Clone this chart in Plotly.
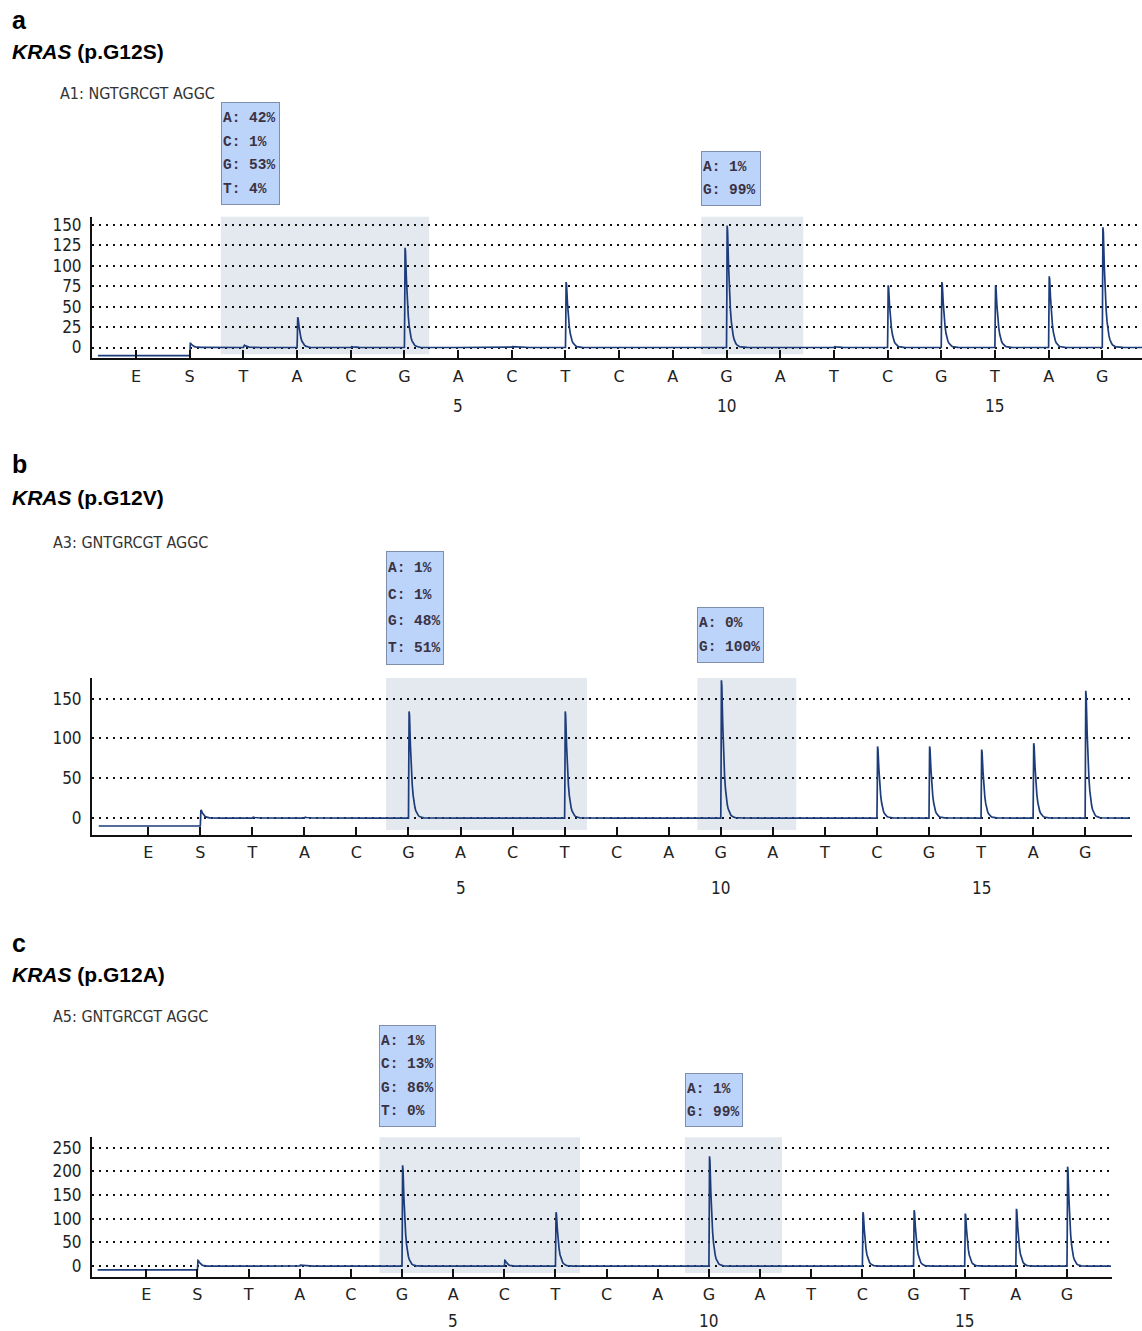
import numpy as np
import plotly.graph_objects as go

# ---------------- data ----------------
dispensation = ["E", "S", "T", "A", "C", "G", "A", "C", "T", "C",
                "A", "G", "A", "T", "C", "G", "T", "A", "G"]
position_labels = ["5", "10", "15"]
position_index = [6, 11, 16]

panel_letters = ["a", "b", "c"]
mutations = ["p.G12S", "p.G12V", "p.G12A"]
sample_texts = ["A1: NGTGRCGT AGGC", "A3: GNTGRCGT AGGC", "A5: GNTGRCGT AGGC"]

heights_a = [0, 5, 3, 37, 1, 122, 0, 1, 80, 0, 0, 149, 0, 1, 76, 80, 76, 87, 147]
heights_b = [0, 10, 1, 1, 0, 134, 0, 0, 134, 0, 0, 173, 0, 0, 90, 90, 86, 94, 160]
heights_c = [0, 12, 0, 2, 0, 213, 0, 12, 114, 0, 0, 232, 0, 0, 114, 118, 111, 121, 210]
pre_levels = [-10, -10, -8]

yticks_a = [0, 25, 50, 75, 100, 125, 150]
yticks_b = [0, 50, 100, 150]
yticks_c = [0, 50, 100, 150, 200, 250]

box1_a = ["A: 42%", "C: 1%", "G: 53%", "T: 4%"]
box2_a = ["A: 1%", "G: 99%"]
box1_b = ["A: 1%", "C: 1%", "G: 48%", "T: 51%"]
box2_b = ["A: 0%", "G: 100%"]
box1_c = ["A: 1%", "C: 13%", "G: 86%", "T: 0%"]
box2_c = ["A: 1%", "G: 99%"]

# ---------------- layout config ----------------
W, H = 1142, 1331
def py(px):
    return 1 - px / H

panels = [
    dict(h=heights_a, yt=yticks_a, xdom=[92 / W, 1.0], ydom=[py(357), py(215)],
         xr=[-0.82, 18.74], yr=[-13.4, 160], xend=18.74, xstart=-0.71,
         shades=[(1.58, 5.46), (10.53, 12.43)], boxes=[box1_a, box2_a],
         box_geom=[(py(203), 59, 103), (py(204), 60, 55)],
         num_y=py(405), head=(py(18), py(50), py(92), 58 / W)),
    dict(h=heights_b, yt=yticks_b, xdom=[92 / W, 1132 / W], ydom=[py(834), py(677)],
         xr=[-1.08, 18.9], yr=[-21, 176], xend=18.86, xstart=-0.95,
         shades=[(4.57, 8.43), (10.55, 12.45)], boxes=[box1_b, box2_b],
         box_geom=[(py(664), 58, 114), (py(662), 67, 56)],
         num_y=py(887), head=(py(463), py(496), py(541), 51 / W)),
    dict(h=heights_c, yt=yticks_c, xdom=[92 / W, 1112 / W], ydom=[py(1277), py(1137)],
         xr=[-1.06, 18.88], yr=[-23, 272], xend=18.86, xstart=-0.95,
         shades=[(4.56, 8.48), (10.53, 12.43)], boxes=[box1_c, box2_c],
         box_geom=[(py(1127), 57, 102), (py(1127), 58, 54)],
         num_y=py(1321), head=(py(942), py(974), py(1016), 51 / W)),
]


def pyrogram(heights, pre, xstart, xend):
    xs = [xstart]
    ys = [pre]
    decay = np.linspace(0.0, 0.4, 24)
    for i in range(1, len(heights)):
        h = heights[i]
        base = pre if i == 1 else 0.0
        xs += [i, i + 0.006, i + 0.012, i + 0.02]
        ys += [base, base + 0.4 * (h - base), h, 0.96 * h]
        for d in decay[1:]:
            xs.append(i + 0.02 + d)
            ys.append(h * np.exp(-d / 0.045))
    xs.append(xend)
    ys.append(0.0)
    return xs, ys


def cond(s):
    return '<span style="font-stretch:condensed">%s</span>' % s


fig = go.Figure()
shapes = []
annotations = []
LINE = "#1c3c7a"
TXT = "#222222"
COND = "DejaVu Sans"

for k, p in enumerate(panels):
    sfx = "" if k == 0 else str(k + 1)
    xa, ya = "x" + sfx, "y" + sfx
    xs, ys = pyrogram(p["h"], pre_levels[k], p["xstart"], p["xend"])
    fig.add_trace(go.Scatter(x=xs, y=ys, mode="lines", xaxis=xa, yaxis=ya,
                             line=dict(color=LINE, width=1.7), showlegend=False,
                             hoverinfo="skip"))
    fig.layout["xaxis" + sfx] = dict(
        domain=p["xdom"], anchor=ya, range=p["xr"],
        tickmode="array", tickvals=list(range(len(dispensation))), ticktext=dispensation,
        ticks="inside", ticklen=8, tickwidth=2, tickcolor="#111",
        showline=True, linecolor="#111", linewidth=2, showgrid=False, zeroline=False,
        tickfont=dict(family="DejaVu Sans", size=16, color=TXT), ticklabelstandoff=2,
        fixedrange=True)
    fig.layout["yaxis" + sfx] = dict(
        domain=p["ydom"], anchor=xa, range=p["yr"],
        tickmode="array", tickvals=p["yt"], ticktext=[cond(str(v)) for v in p["yt"]],
        ticks="", showline=True, linecolor="#111", linewidth=2,
        showgrid=True, gridcolor="#111", gridwidth=2, griddash="2px,5px",
        zeroline=False, tickfont=dict(family=COND, size=17, color=TXT),
        ticklabelstandoff=5, fixedrange=True)

    for (x0, x1) in p["shades"]:
        shapes.append(dict(type="rect", xref=xa, yref=ya + " domain", x0=x0, x1=x1,
                           y0=0.03, y1=1.0, fillcolor="#e4e8ef", line=dict(width=0),
                           layer="below"))

    for bi, lines in enumerate(p["boxes"]):
        ybot, bw, bh = p["box_geom"][bi]
        txt = "<br>".join('<span style="font-size:14.5px"><b>%s</b></span>' % s for s in lines)
        fsz = (bh - 8) / len(lines) / 1.3
        annotations.append(dict(
            xref=xa, yref="paper", x=p["shades"][bi][0], y=ybot,
            xanchor="left", yanchor="bottom", text=txt, showarrow=False,
            align="left", valign="middle", width=bw - 4, height=bh - 4,
            bgcolor="#bcd3fa", bordercolor="#7d8eae", borderwidth=1, borderpad=1,
            font=dict(family="Liberation Mono", size=fsz, color="#3a3242")))

    for lab, idx in zip(position_labels, position_index):
        annotations.append(dict(xref=xa, yref="paper", x=idx, y=p["num_y"],
                                text=cond(lab), showarrow=False, xanchor="center",
                                yanchor="middle",
                                font=dict(family="DejaVu Sans", size=17, color=TXT)))

    yl, yk, ys_, xs_ = p["head"]
    annotations.append(dict(xref="paper", yref="paper", x=10 / W, y=yl,
                            text="<b>%s</b>" % panel_letters[k], showarrow=False,
                            xanchor="left", yanchor="middle",
                            font=dict(family="Liberation Sans", size=25, color="#000")))
    annotations.append(dict(xref="paper", yref="paper", x=10 / W, y=yk,
                            text="<b><i>KRAS</i> (%s)</b>" % mutations[k], showarrow=False,
                            xanchor="left", yanchor="middle",
                            font=dict(family="Liberation Sans", size=21, color="#000")))
    annotations.append(dict(xref="paper", yref="paper", x=xs_, y=ys_,
                            text=cond(sample_texts[k]), showarrow=False,
                            xanchor="left", yanchor="middle",
                            font=dict(family=COND, size=16, color="#333")))

fig.update_layout(width=W, height=H, margin=dict(l=0, r=0, t=0, b=0),
                  paper_bgcolor="white", plot_bgcolor="rgba(0,0,0,0)",
                  shapes=shapes, annotations=annotations, showlegend=False)

fig.write_html("out.html", config={"displayModeBar": False},
               post_script="document.body.style.margin='0';document.body.style.overflow='hidden';")
